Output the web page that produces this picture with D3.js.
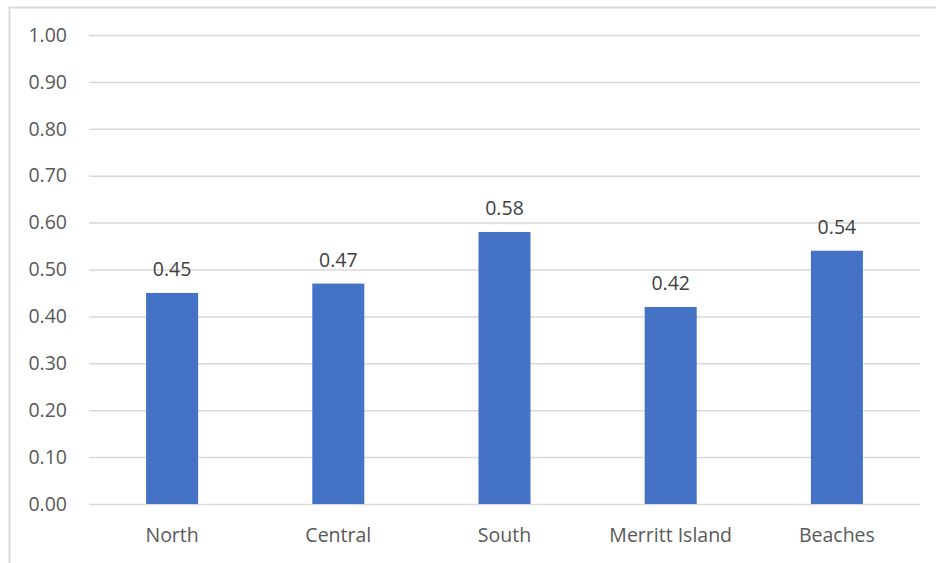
<!DOCTYPE html>
<html><head><meta charset="utf-8">
<script src="https://cdn.jsdelivr.net/npm/d3@7"></script>
<style>body{margin:0;background:#fff;}svg{display:block;}</style>
</head><body>
<svg id="chart" width="936" height="563"></svg>
<script>
const categories = ["North", "Central", "South", "Merritt Island", "Beaches"];
const values = [0.45, 0.47, 0.58, 0.42, 0.54];
const yTicks = [0, 0.1, 0.2, 0.3, 0.4, 0.5, 0.6, 0.7, 0.8, 0.9, 1.0];

const svg = d3.select("#chart");
const W = 936, H = 563;
const m = {left: 89, right: 16, top: 35, bottom: 59};
const font = "'Open Sans', sans-serif";

// chart border (top & left visible)
svg.append("path").attr("d", `M9.5,${H} L9.5,7.5 L${W},7.5`)
  .attr("fill", "none").attr("stroke", "#d9d9d9").attr("stroke-width", 2);

const x = d3.scaleBand().domain(categories).range([m.left, W - m.right]).paddingInner(0.687).paddingOuter(0.3435);
const y = d3.scaleLinear().domain([0, 1]).range([H - m.bottom, m.top]);

const yAxis = d3.axisLeft(y).tickValues(yTicks).tickFormat(d3.format(".2f"))
  .tickSize(-(W - m.right - m.left)).tickPadding(22);
const gy = svg.append("g").attr("transform", `translate(${m.left},0)`).call(yAxis);
gy.select(".domain").remove();
gy.selectAll(".tick line").attr("stroke", "#d9d9d9").attr("stroke-width", 1.5);
gy.selectAll(".tick text").attr("fill", "#595959").style("font-family", font).style("font-size", "19.5px");

svg.append("g").selectAll("rect").data(values).join("rect")
  .attr("x", (d, i) => x(categories[i]))
  .attr("width", x.bandwidth())
  .attr("y", d => y(d))
  .attr("height", d => y(0) - y(d))
  .attr("fill", "#4472C4");

svg.append("g").selectAll("text").data(values).join("text")
  .attr("x", (d, i) => x(categories[i]) + x.bandwidth() / 2)
  .attr("y", d => y(d) - 17)
  .attr("text-anchor", "middle")
  .attr("fill", "#404040")
  .style("font-family", font).style("font-size", "19.5px")
  .text(d => d3.format(".2f")(d));

const xAxis = d3.axisBottom(x).tickSize(0).tickPadding(24);
const gx = svg.append("g").attr("transform", `translate(0,${y(0)})`).call(xAxis);
gx.select(".domain").remove();
gx.selectAll(".tick text").attr("fill", "#595959").style("font-family", font).style("font-size", "19.5px");
</script>
</body></html>
